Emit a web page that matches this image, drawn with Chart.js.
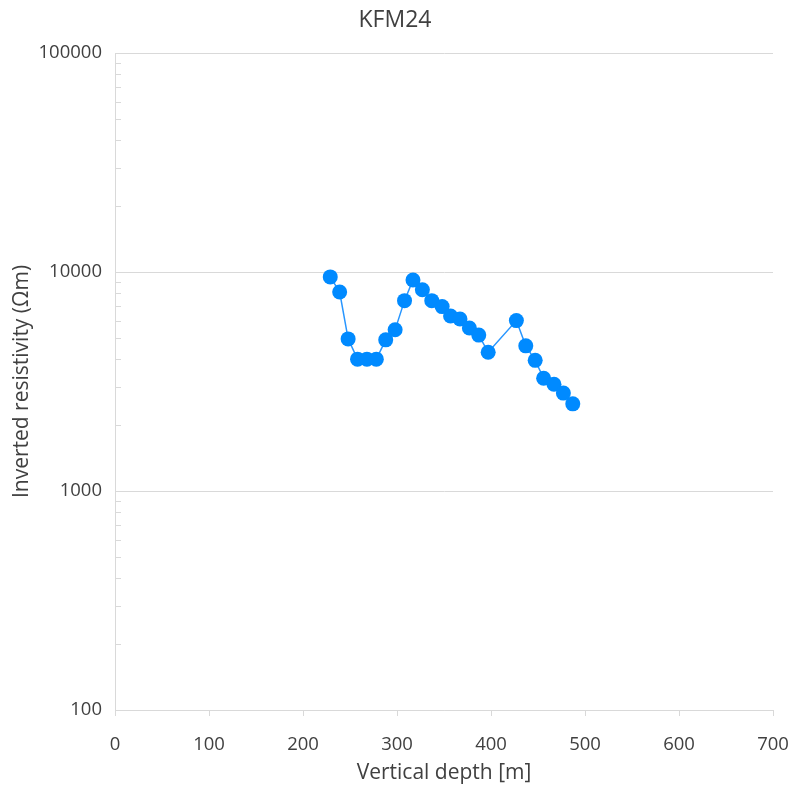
<!DOCTYPE html>
<html>
<head>
<meta charset="utf-8">
<script src="https://cdn.jsdelivr.net/npm/chart.js@4/dist/chart.umd.min.js"></script>
<style>
html,body{margin:0;padding:0;background:#fff;}
#wrap{width:790px;height:789px;}
</style>
</head>
<body>
<div id="wrap"><canvas id="c" width="790" height="789"></canvas></div>
<script>
const depths = [229,239,248,258,268,278,288,298,308,317,327,337,348,357,367,377,387,397,427,437,447,456,467,477,487];
const resistivity = [9500,8100,4950,4000,4000,4000,4900,5450,7400,9200,8300,7400,6950,6300,6100,5550,5150,4300,6000,4600,3950,3270,3070,2800,2500];
const xTicks = [0,100,200,300,400,500,600,700];
const yTicks = [100,1000,10000,100000];
const titleText = 'KFM24';
const xTitle = 'Vertical depth [m]';
const yTitle = 'Inverted resistivity (\u03A9m)';

const points = depths.map((d,i)=>({x:d,y:resistivity[i]}));
const FONT = '"Open Sans", "Liberation Sans", sans-serif';
const GRID = '#d9d9d9';
const TXT = '#404040';

const minorTicks = {
  id:'minorTicks',
  beforeDatasetsDraw(chart){
    const s = chart.scales.y; const ctx = chart.ctx;
    ctx.save(); ctx.strokeStyle = GRID; ctx.lineWidth = 1;
    for(let k=2;k<=4;k++){
      for(let m=2;m<=9;m++){
        const y = Math.round(s.getPixelForValue(m*Math.pow(10,k)))+0.5;
        ctx.beginPath(); ctx.moveTo(s.right, y); ctx.lineTo(s.right+6, y); ctx.stroke();
      }
    }
    ctx.restore();
  }
};

new Chart(document.getElementById('c'), {
  type:'scatter',
  data:{datasets:[{
    data:points,
    showLine:true,
    borderColor:'rgb(40,150,255)',
    borderWidth:1.5,
    backgroundColor:'rgb(0,138,255)',
    pointBackgroundColor:'rgb(0,138,255)',
    pointBorderColor:'rgb(0,138,255)',
    pointRadius:7.5,
    pointBorderWidth:0,
    tension:0
  }]},
  options:{
    responsive:false,
    animation:false,
    layout:{padding:{left:0,right:0,top:0,bottom:0}},
    plugins:{
      legend:{display:false},
      tooltip:{enabled:false},
      title:{display:true,text:titleText,color:TXT,font:{family:FONT,size:23,weight:'normal'},padding:{top:7,bottom:18.4}}
    },
    scales:{
      x:{
        type:'linear',min:0,max:700,
        afterBuildTicks(s){ s.ticks = xTicks.map(v=>({value:v})); },
        afterFit(s){ s.height = 79; s.paddingRight = 17; s.paddingLeft = 0; },
        grid:{drawOnChartArea:false,drawTicks:true,tickLength:6,color:GRID,tickColor:GRID},
        border:{display:true,color:GRID,width:1},
        ticks:{color:TXT,font:{family:FONT,size:18.5},padding:18,maxRotation:0},
        title:{display:true,text:xTitle,color:TXT,font:{family:FONT,size:21},padding:{top:0,bottom:3.5}}
      },
      y:{
        type:'logarithmic',min:100,max:100000,
        afterBuildTicks(s){ s.ticks = yTicks.map(v=>({value:v})); },
        afterFit(s){ s.width = 115; s.paddingTop = 0; s.paddingBottom = 0; },
        grid:{drawTicks:false,color:GRID},
        border:{display:true,color:GRID,width:1},
        ticks:{color:TXT,font:{family:FONT,size:18.5},padding:13,callback:(v)=>String(v)},
        title:{display:true,text:yTitle,color:TXT,font:{family:FONT,size:21},padding:{top:9,bottom:0}}
      }
    }
  },
  plugins:[minorTicks]
});
</script>
</body>
</html>
